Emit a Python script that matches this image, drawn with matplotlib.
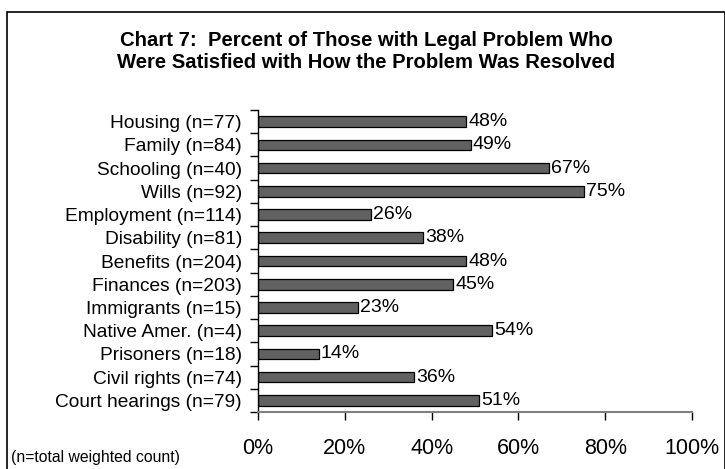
import matplotlib
matplotlib.use("Agg")
import matplotlib.pyplot as plt
from matplotlib.patches import Rectangle

plt.rcParams['font.family'] = ['Liberation Sans', 'DejaVu Sans']

categories = ["Housing (n=77)", "Family (n=84)", "Schooling (n=40)", "Wills (n=92)",
              "Employment (n=114)", "Disability (n=81)", "Benefits (n=204)",
              "Finances (n=203)", "Immigrants (n=15)", "Native Amer. (n=4)",
              "Prisoners (n=18)", "Civil rights (n=74)", "Court hearings (n=79)"]
values = [48, 49, 67, 75, 26, 38, 48, 45, 23, 54, 14, 36, 51]
xticks = [0, 20, 40, 60, 80, 100]

W, H = 725, 469
fig = plt.figure(figsize=(W / 100, H / 100), dpi=100)

# outer chart frame (open at right and bottom, as in the source image)
fig.add_artist(Rectangle((7 / W, -0.05), 0.99, 1.05 - 12 / H,
                         transform=fig.transFigure, fill=False,
                         edgecolor='black', linewidth=1.2))

ax = fig.add_axes([258 / W, 1 - 412 / H, 434 / W, 302 / H])

ypos = list(range(len(categories)))
ax.barh(ypos, values, height=0.46, color='#616161', edgecolor='black', linewidth=0.9)
for y, v in zip(ypos, values):
    ax.text(v + 0.5, y, f"{v}%", va='center', ha='left', fontsize=14)

ax.set_xlim(0, 100)
ax.set_ylim(len(categories) - 0.5, -0.5)

ax.set_yticks(ypos)
ax.set_yticklabels(categories, fontsize=13.8)
ax.tick_params(axis='y', which='major', length=0, pad=11.5)
ax.set_yticks([i - 0.5 for i in range(len(categories) + 1)], minor=True)
ax.tick_params(axis='y', which='minor', length=6, width=1)

ax.set_xticks(xticks)
ax.set_xticklabels([f"{t}%" for t in xticks], fontsize=15.5)
ax.tick_params(axis='x', length=6, width=1, pad=13)

for side in ['top', 'right']:
    ax.spines[side].set_visible(False)
ax.spines['left'].set_linewidth(1)
ax.spines['bottom'].set_color('#808080')
ax.spines['bottom'].set_linewidth(1.5)

fig.text(366 / W, 1 - 40 / H, "Chart 7:  Percent of Those with Legal Problem Who",
         ha='center', va='center', fontsize=14.6, fontweight='bold')
fig.text(366 / W, 1 - 63 / H, "Were Satisfied with How the Problem Was Resolved",
         ha='center', va='center', fontsize=14.6, fontweight='bold')
fig.text(11 / W, 1 - 457 / H, "(n=total weighted count)", ha='left', va='center', fontsize=11.3)

fig.savefig("out.png", dpi=100)
